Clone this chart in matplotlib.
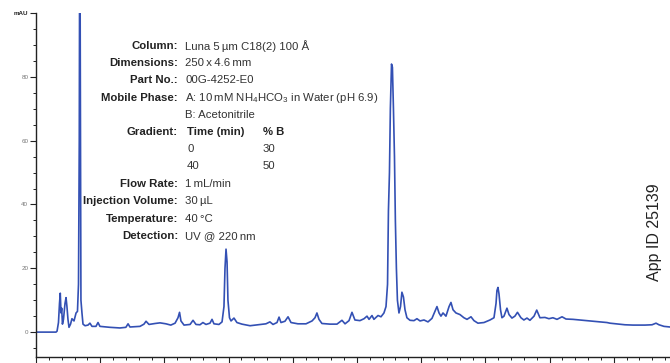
import numpy as np
import matplotlib
matplotlib.use('Agg')
import matplotlib.pyplot as plt
from matplotlib.ticker import MultipleLocator

# chromatogram trace, read point by point (time in min, absorbance in mAU)
t_min = [0.0, 1.56, 1.64, 1.75, 1.83, 1.89, 1.95, 2.0, 2.06, 2.14, 2.26, 2.34, 2.41, 2.49,
         2.57, 2.69, 2.8, 2.96, 3.12, 3.23, 3.31, 3.37, 3.41, 3.47, 3.5, 3.58, 3.66, 3.82,
         4.05, 4.2, 4.36, 4.67, 4.83, 4.98, 5.76, 6.54, 7.0, 7.17, 7.32, 8.1, 8.41, 8.57,
         8.8, 9.27, 9.66, 10.12, 10.5, 10.83, 11.06, 11.18, 11.29, 11.53, 12.0, 12.23,
         12.46, 12.77, 13.0, 13.24, 13.55, 13.71, 13.86, 14.25, 14.49, 14.64, 14.72, 14.8,
         14.88, 14.95, 15.07, 15.19, 15.42, 15.65, 16.04, 16.67, 17.29, 17.91, 18.22, 18.46,
         18.77, 18.93, 19.08, 19.39, 19.63, 19.86, 20.4, 21.03, 21.5, 21.73, 21.88, 22.04,
         22.27, 22.9, 23.44, 23.83, 24.07, 24.38, 24.61, 24.84, 25.23, 25.55, 25.78, 25.94,
         26.17, 26.32, 26.64, 26.87, 27.1, 27.26, 27.38, 27.45, 27.53, 27.6, 27.69, 27.76,
         27.84, 27.92, 27.99, 28.07, 28.15, 28.27, 28.39, 28.5, 28.62, 28.74, 28.89, 29.13,
         29.44, 29.67, 29.91, 30.22, 30.53, 30.84, 31.07, 31.23, 31.39, 31.54, 31.7, 31.93,
         32.17, 32.32, 32.48, 32.71, 33.02, 33.33, 33.57, 33.88, 34.11, 34.42, 34.89, 35.36,
         35.67, 35.83, 35.9, 35.98, 36.06, 36.18, 36.29, 36.45, 36.68, 36.84, 37.07, 37.3,
         37.5, 37.77, 38.0, 38.24, 38.47, 38.79, 39.0, 39.25, 39.64, 39.95, 40.26, 40.58,
         40.97, 41.28, 41.82, 42.37, 43.15, 43.93, 44.47, 44.7, 45.17, 45.87, 46.5, 47.43,
         47.98, 48.29, 48.52, 48.91, 49.38]
mau = [0.0, 0.0, 0.3, 3.0, 9.0, 12.2, 6.0, 7.5, 2.5, 4.0, 9.0, 10.8, 8.0, 4.0,
       1.5, 2.5, 4.2, 3.5, 6.0, 6.5, 15.0, 60.0, 140.0, 60.0, 10.0, 6.0, 2.5, 2.0,
       2.2, 2.8, 1.8, 1.8, 3.0, 1.8, 1.5, 1.3, 1.5, 2.6, 1.6, 1.8, 2.5, 3.4,
       2.4, 2.7, 2.9, 2.6, 2.2, 2.8, 4.5, 6.2, 3.5, 2.2, 2.4, 3.7,
       2.4, 2.3, 3.0, 2.4, 2.8, 4.0, 2.6, 2.4, 3.2, 8.0, 20.0, 26.0,
       22.0, 10.0, 4.5, 3.5, 4.4, 3.0, 2.5, 2.0, 2.3, 2.6, 3.2, 2.4,
       3.0, 4.7, 3.0, 3.4, 4.8, 3.0, 2.6, 2.6, 3.5, 4.5, 6.0, 4.0,
       2.7, 2.5, 2.5, 3.7, 2.6, 3.6, 6.2, 3.8, 3.6, 4.2, 5.0, 4.0,
       5.2, 4.0, 5.2, 4.8, 6.0, 8.0, 15.0, 38.0, 50.0, 70.0, 84.0, 83.0,
       70.0, 55.0, 35.0, 20.0, 10.0, 6.0, 8.0, 12.5, 11.0, 7.0, 4.5, 3.7,
       3.6, 4.2, 3.5, 3.8, 3.2, 4.3, 6.5, 8.0, 6.0, 5.0, 6.0, 5.0,
       8.0, 9.3, 7.0, 6.0, 5.5, 4.5, 4.0, 4.8, 3.6, 2.8, 3.0, 3.8,
       4.5, 9.0, 13.0, 14.0, 12.0, 7.0, 4.5, 5.0, 7.5, 5.5, 4.4, 5.0,
       6.2, 4.5, 3.8, 4.4, 3.7, 5.0, 6.9, 4.5, 4.6, 4.2, 4.5, 4.0,
       4.8, 4.1, 4.0, 3.8, 3.5, 3.2, 3.0, 2.8, 2.6, 2.3, 2.2, 2.2,
       2.3, 2.8, 2.3, 1.8, 1.6]

y_ticks = [0, 20, 40, 60, 80, 100]
y_ticklabels = ['0', '20', '40', '60', '80', 'mAU']
x_ticks = [0, 5, 10, 15, 20, 25, 30, 35, 40, 45]

# method conditions printed over the trace
cond_labels = ['Column:', 'Dimensions:', 'Part No.:', 'Mobile Phase:', '', 'Gradient:',
               '', '', 'Flow Rate:', 'Injection Volume:', 'Temperature:', 'Detection:']
cond_values = ['Luna 5\u2009\u00b5m C18(2) 100 \u00c5', '250\u2009x\u20094.6\u2009mm', '00G-4252-E0',
               'A: 10\u2009mM NH$_4$HCO$_3$ in Water (pH 6.9)', 'B: Acetonitrile', '',
               '', '', '1\u2009mL/min', '30\u2009\u00b5L', '40\u2009\u00b0C', 'UV @ 220\u2009nm']
grad_time = ['0', '40']
grad_b = ['30', '50']

fam = ['Liberation Sans', 'DejaVu Sans']
plt.rcParams['font.family'] = fam
plt.rcParams['mathtext.fontset'] = 'custom'
plt.rcParams['mathtext.rm'] = 'Liberation Sans'
plt.rcParams['mathtext.it'] = 'Liberation Sans'

W, H = 670, 363
fig = plt.figure(figsize=(W / 100, H / 100), dpi=100)
ax = fig.add_axes([36 / W, 6 / H, (W - 36) / W, (357 - 13) / H])

ax.plot(t_min, mau, color='#3350b4', lw=1.2)
ax.set_xlim(0, 49.38)
ax.set_ylim(-7.8, 100)

for s in ['top', 'right']:
    ax.spines[s].set_visible(False)
for s in ['left', 'bottom']:
    ax.spines[s].set_linewidth(1.0)
    ax.spines[s].set_color('#222222')

ax.set_yticks(y_ticks)
ax.set_yticklabels(y_ticklabels)
ax.yaxis.set_minor_locator(MultipleLocator(5))
ax.set_xticks(x_ticks)
ax.xaxis.set_minor_locator(MultipleLocator(1))
ax.tick_params(which='major', length=4, width=0.8, color='#222222', labelsize=4.5,
               labelcolor='#777777', pad=1.5)
ax.tick_params(which='minor', length=2.5, width=0.7, color='#222222')
ax.get_yticklabels()[-1].set_color('#222222')
ax.get_yticklabels()[-1].set_fontweight('bold')

# condition table, pixel positions converted to figure fraction
def fy(py):
    return 1 - py / H

fs = 8.2
row_y = [46, 63, 80, 98, 115, 132, 149, 166, 184, 201, 219, 236]
for lab, val, py in zip(cond_labels, cond_values, row_y):
    if lab:
        fig.text(178 / W, fy(py), lab, ha='right', va='center', fontsize=fs,
                 fontweight='bold', color='#222222')
    if val:
        fig.text(185 / W, fy(py), val, ha='left', va='center', fontsize=fs, color='#333333')

fig.text(187 / W, fy(132), 'Time (min)', ha='left', va='center', fontsize=fs,
         fontweight='bold', color='#222222')
fig.text(263 / W, fy(132), '% B', ha='left', va='center', fontsize=fs,
         fontweight='bold', color='#222222')
for tm, b, py in zip(grad_time, grad_b, [149, 166]):
    fig.text(187 / W, fy(py), tm, ha='left', va='center', fontsize=fs, color='#333333')
    fig.text(263 / W, fy(py), b, ha='left', va='center', fontsize=fs, color='#333333')

fig.text(655 / W, fy(232), 'App ID 25139', rotation=90, ha='center', va='center',
         fontsize=11.5, color='#222222')

fig.savefig('out.png', dpi=100)
